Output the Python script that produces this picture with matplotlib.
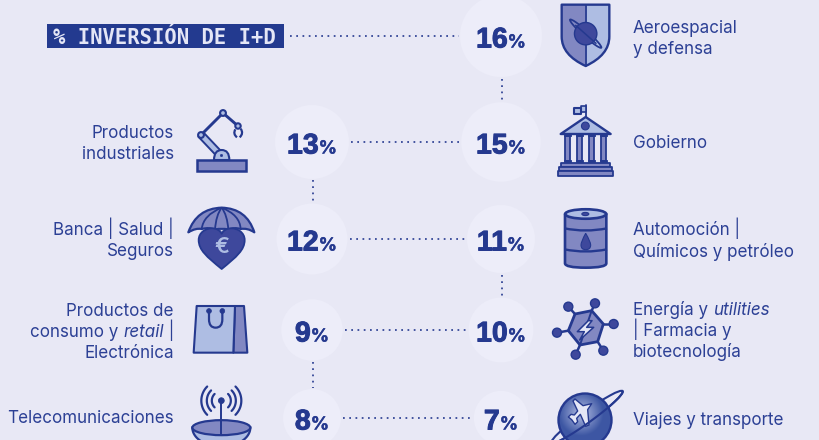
import numpy as np
import matplotlib
matplotlib.use('Agg')
import matplotlib.pyplot as plt
import matplotlib.patheffects as pe
from matplotlib.patches import Circle, Ellipse, Polygon, Rectangle, PathPatch
from matplotlib.path import Path

# ---------- data ----------
title = "% INVERSIÓN DE I+D"
left_values = [13, 12, 9, 8]
right_values = [16, 15, 11, 10, 7]
left_labels = [
    [[("Productos", "normal")], [("industriales", "normal")]],
    [[("Banca | Salud |", "normal")], [("Seguros", "normal")]],
    [[("Productos de", "normal")], [("consumo y ", "normal"), ("retail", "italic"), (" |", "normal")], [("Electrónica", "normal")]],
    [[("Telecomunicaciones", "normal")]],
]
right_labels = [
    [[("Aeroespacial", "normal")], [("y defensa", "normal")]],
    [[("Gobierno", "normal")]],
    [[("Automoción |", "normal")], [("Químicos y petróleo", "normal")]],
    [[("Energía y ", "normal"), ("utilities", "italic")], [("| Farmacia y", "normal")], [("biotecnología", "normal")]],
    [[("Viajes y transporte", "normal")]],
]

# ---------- layout / style ----------
left_rows = [142, 239, 330, 418]
right_rows = [36, 142, 239, 330, 418]
left_label_rows = [142.5, 239.5, 331, 417]
right_label_rows = [37.5, 142, 240, 330, 419]
left_cx, right_cx = 312, 501
BG, DISC = '#E8E8F5', '#EDEDF9'
NAVY, MID, LIGHT, DARK = '#25398F', '#8288C2', '#AEBDE3', '#3E489C'
TXT = '#2C4095'
FONT = 'Inter'
FS = 12.25

fig = plt.figure(figsize=(8.19, 4.40), dpi=100, facecolor=BG)
ax = fig.add_axes([0, 0, 1, 1])
ax.set_xlim(0, 819); ax.set_ylim(440, 0); ax.axis('off')
renderer = fig.canvas.get_renderer()


def radius(v):
    return 10.25 * np.sqrt(v)


def dotted(x0, y0, x1, y1):
    ax.plot([x0, x1], [y0, y1], color=NAVY, lw=1.2, ls=(0, (1.05, 2.7)), zorder=2)


def width(t):
    return t.get_window_extent(renderer).width


def label(lines, x, yc, align):
    step = 21.4
    y0 = yc - step * (len(lines) - 1) / 2 + 6
    for i, line_ in enumerate(lines):
        cursor = 0
        texts = []
        for s, st in line_:
            s = s.replace(' ', '\u00a0')
            t = ax.text(cursor, y0 + i * step, s, fontsize=FS, family=FONT, style=st, color=TXT,
                        ha='left', va='baseline', zorder=5)
            texts.append(t)
            cursor += width(t)
        start = x - cursor if align == 'right' else x
        for t in texts:
            t.set_x(t.get_position()[0] + start)


def percent(cx, cy, v):
    a = ax.text(0, cy + 11.5, str(v), fontsize=20.5, family='Liberation Sans', weight='bold', color=NAVY,
                ha='left', va='baseline', zorder=5,
                path_effects=[pe.withStroke(linewidth=0.7, foreground=NAVY)])
    b = ax.text(0, cy + 11.5, '%', fontsize=13, family=FONT, weight='bold', color=NAVY,
                ha='left', va='baseline', zorder=5,
                path_effects=[pe.withStroke(linewidth=0.3, foreground=NAVY)])
    wa, wb = width(a), width(b)
    left = cx - (wa + wb) / 2
    a.set_x(left); b.set_x(left + wa)


def Z(ox, oy, pts, s=3.0):
    return [(ox + px / s, oy + py / s) for px, py in pts]


def poly(pts, fc, ec=NAVY, lw=1.5, z=4):
    ax.add_patch(Polygon(pts, closed=True, fc=fc, ec=ec, lw=lw, joinstyle='round', zorder=z))


def line(pts, lw=1.5, c=NAVY, z=4):
    xs, ys = zip(*pts)
    ax.plot(xs, ys, color=c, lw=lw, solid_capstyle='round', zorder=z)


def circ(x, y, r, fc, ec=NAVY, lw=1.2, z=4):
    ax.add_patch(Circle((x, y), r, fc=fc, ec=ec, lw=lw, zorder=z))


def curve(verts, codes, fc, ec=NAVY, lw=1.5, z=4):
    ax.add_patch(PathPatch(Path(verts, codes), fc=fc, ec=ec, lw=lw, zorder=z, joinstyle='round'))


M, L, C3, C4, CL = Path.MOVETO, Path.LINETO, Path.CURVE3, Path.CURVE4, Path.CLOSEPOLY


def icon_shield():
    ox, oy = 410, 0
    top_l, top_m, top_r = (455, 14), (527, 14), (598, 14)
    bot = (527, 198)
    curve(Z(ox, oy, [top_l, (455, 110), (455, 165), bot, top_m, top_l]), [M, L, C3, C3, L, CL], MID, 'none', 0)
    curve(Z(ox, oy, [top_m, top_r, (598, 110), (598, 165), bot, top_m]), [M, L, L, C3, C3, CL], LIGHT, 'none', 0)
    curve(Z(ox, oy, [top_l, top_r, (598, 110), (598, 165), bot, (455, 165), (455, 110), top_l]),
          [M, L, L, C3, C3, C3, L, CL], 'none', NAVY, 1.7, 5)
    line(Z(ox, oy, [top_m, bot]), 1.3, z=5)
    c = Z(ox, oy, [(527, 101)])[0]
    ax.add_patch(Ellipse(c, 42, 5.5, angle=42, fc='none', ec=NAVY, lw=1.3, zorder=5))
    circ(c[0], c[1], 11.2, DARK, NAVY, 1, 6)
    line(Z(ox, oy, [(497, 76), (558, 130)]), 1.1, z=7)


def icon_robot():
    ox, oy = 0, 0
    ax.add_patch(Rectangle((197, 160), 49, 11, fc=MID, ec=NAVY, lw=1.8, zorder=4))
    curve(Z(ox, oy, [(642, 480), (642, 450), (665, 450), (688, 450), (688, 480), (642, 480)]), [M, C3, C3, C3, C3, CL], LIGHT, NAVY, 1.5, 5)
    circ(221.5, 155.5, 1.1, NAVY, NAVY, 0.5, 6)
    poly(Z(ox, oy, [(595, 410), (610, 397), (663, 453), (648, 466)]), LIGHT, NAVY, 1.4, 3)
    line([(201, 135), (223, 113)], 2.1)
    line([(223, 113), (238, 126)], 2.1)
    circ(201, 135, 2.9, LIGHT, NAVY, 1.5, 5)
    circ(223, 113, 2.9, LIGHT, NAVY, 1.5, 5)
    circ(238, 126, 2.7, LIGHT, NAVY, 1.5, 5)
    curve(Z(ox, oy, [(706, 388), (698, 402), (711, 412)]), [M, C3, C3], 'none', NAVY, 1.6, 5)
    curve(Z(ox, oy, [(722, 386), (732, 400), (719, 412)]), [M, C3, C3], 'none', NAVY, 1.6, 5)


def icon_gov():
    ox, oy = 410, 0
    line(Z(ox, oy, [(527, 316), (527, 352)]), 1.3)
    poly(Z(ox, oy, [(512, 318), (528, 318), (528, 335), (512, 335)]), LIGHT, NAVY, 1.2)
    poly(Z(ox, oy, [(491, 324), (512, 324), (512, 343), (491, 343)]), LIGHT, NAVY, 1.5)
    poly(Z(ox, oy, [(452, 402), (527, 351), (602, 402)]), LIGHT, NAVY, 1.7)
    c = Z(ox, oy, [(526, 378)])[0]
    circ(c[0], c[1], 3.9, DARK, NAVY, 0.8, 5)
    for cx in (472, 508, 544, 580):
        poly(Z(ox, oy, [(cx - 8, 408), (cx + 8, 408), (cx + 8, 484), (cx - 8, 484)]), MID, NAVY, 1.3)
        poly(Z(ox, oy, [(cx - 11, 403), (cx + 11, 403), (cx + 11, 409), (cx - 11, 409)]), NAVY, NAVY, 0.6)
        poly(Z(ox, oy, [(cx - 11, 480), (cx + 11, 480), (cx + 11, 487), (cx - 11, 487)]), NAVY, NAVY, 0.6)
    poly(Z(ox, oy, [(452, 488), (600, 488), (600, 500), (452, 500)]), MID, NAVY, 1.3)
    poly(Z(ox, oy, [(447, 500), (606, 500), (606, 513), (447, 513)]), MID, NAVY, 1.3)
    poly(Z(ox, oy, [(443, 514), (610, 514), (610, 528), (443, 528)]), MID, NAVY, 1.3)


def icon_umbrella():
    ox, oy = 170, 195
    pts = [(55, 112), (95, 102), (135, 104), (175, 104), (212, 102), (253, 112)]
    top = (155, 38)
    v = Z(ox, oy, [(55, 112), (80, 40), top, (230, 40), (253, 112),
                   (232, 98), (212, 102), (193, 96), (175, 104), (155, 98), (135, 104), (118, 96), (95, 102), (78, 98), (55, 112), (55, 112)])
    curve(v, [M, C3, C3, C3, C3, C3, C3, C3, C3, C3, C3, C3, C3, C3, C3, CL], MID, NAVY, 1.6, 4)
    for p, ctrl in zip(pts[1:-1], [(100, 60), (138, 60), (172, 60), (210, 60)]):
        curve(Z(ox, oy, [top, ctrl, p]), [M, C3, C3], 'none', NAVY, 1.3, 5)
    v = Z(ox, oy, [(155, 222), (110, 185), (86, 165), (86, 135), (86, 112), (108, 100), (125, 100),
                   (140, 100), (150, 106), (155, 116), (160, 106), (170, 100), (185, 100),
                   (202, 100), (224, 112), (224, 135), (224, 165), (200, 185), (155, 222), (155, 222)])
    curve(v, [M] + [C4] * 18 + [CL], DARK, NAVY, 1.3, 6)
    poly(Z(ox, oy, [(148, 104), (162, 104), (155, 112)]), BG, NAVY, 0.6, 7)
    c = Z(ox, oy, [(155, 157)])[0]
    ax.text(c[0], c[1], '€', fontsize=16, family=FONT, weight='semibold', color=LIGHT, ha='center', va='center', zorder=8)


def icon_barrel():
    ox, oy = 545, 200
    curve(Z(ox, oy, [(60, 42), (60, 190), (60, 203), (122, 203), (184, 203), (184, 190), (184, 42), (60, 42)]),
          [M, L, C3, C3, C3, C3, L, CL], MID, NAVY, 1.9, 4)
    c = Z(ox, oy, [(122, 42)])[0]
    ax.add_patch(Ellipse(c, 41, 9.5, fc=LIGHT, ec=NAVY, lw=1.9, zorder=5))
    c2 = Z(ox, oy, [(121, 42)])[0]
    ax.add_patch(Ellipse(c2, 7, 3.2, fc=DARK, ec=NAVY, lw=0.8, zorder=6))
    curve(Z(ox, oy, [(58, 85), (122, 98), (186, 85)]), [M, C3, C3], 'none', NAVY, 1.7, 5)
    curve(Z(ox, oy, [(58, 148), (122, 161), (186, 148)]), [M, C3, C3], 'none', NAVY, 1.7, 5)
    curve(Z(ox, oy, [(122, 100), (108, 125), (108, 135), (108, 149), (122, 149), (137, 149), (137, 135), (137, 125), (122, 100)]),
          [M, C3, C3, C3, C3, C3, C3, C3, C3], DARK, NAVY, 0.8, 6)


def icon_bag():
    ox, oy = 0, 220
    poly(Z(ox, oy, [(705, 258), (732, 258), (742, 398), (700, 398)]), MID, NAVY, 1.5, 4)
    poly(Z(ox, oy, [(590, 258), (705, 258), (700, 398), (581, 398)]), LIGHT, NAVY, 1.5, 5)
    curve(Z(ox, oy, [(627, 273), (627, 298), (627, 323), (647, 323), (667, 323), (667, 298), (667, 273)]),
          [M, L, C3, C3, C3, C3, L], 'none', NAVY, 1.6, 6)
    for x in (627, 667):
        c = Z(ox, oy, [(x, 273)])[0]
        circ(c[0], c[1], 2.4, NAVY, NAVY, 0.5, 7)


def icon_hex():
    ox, oy = 545, 290
    hexa = [(90, 72), (140, 62), (175, 102), (158, 155), (105, 165), (70, 122)]
    nodes = [(70, 50), (150, 40), (206, 102), (175, 182), (92, 194), (36, 128)]
    for n, a in zip(nodes, hexa):
        line(Z(ox, oy, [n, a]), 1.8, z=3)
        c = Z(ox, oy, [n])[0]
        circ(c[0], c[1], 4.5, DARK, NAVY, 1.0, 4)
    poly(Z(ox, oy, hexa), MID, NAVY, 2.0, 4)
    line(Z(ox, oy, [(140, 62), (105, 165)]), 1.4, z=5)
    poly(Z(ox, oy, [(130, 92), (97, 125), (118, 125), (104, 150), (146, 112), (125, 112), (141, 92)]), '#E4E6F6', NAVY, 1.1, 6)


def icon_antenna():
    ox, oy = 180, 380
    c = Z(ox, oy, [(124, 62)])[0]
    for r in (20, 14.5, 9.5):
        for a0, a1 in [(-45, 45), (135, 225)]:
            th = np.radians(np.linspace(a0, a1, 30))
            line(list(zip(c[0] + r * np.cos(th), c[1] + r * np.sin(th))), 1.6)
    circ(c[0], c[1], 2.9, NAVY, NAVY, 0.6, 5)
    th = np.linspace(0, np.pi, 40)
    cx, cy = Z(ox, oy, [(124, 143)])[0]
    ax.fill(cx + 29 * np.cos(th), cy + 19 * np.sin(th), fc=LIGHT, ec=NAVY, lw=1.6, zorder=4)
    ax.add_patch(Ellipse((cx, cy), 58, 15, fc=MID, ec=NAVY, lw=1.6, zorder=5))
    line([(c[0], c[1]), (c[0], cy + 7)], 1.4, z=6)


def icon_plane():
    ox, oy = 545, 385
    cx, cy = Z(ox, oy, [(120, 105)])[0]
    r = 26.5
    ring_c = (587, 417)
    major, minor, ang = 44, 5.5, -36
    ax.add_patch(Ellipse(ring_c, 2 * major, 2 * minor, angle=ang, fc='none', ec=NAVY, lw=1.5, zorder=3))
    yy, xx = np.mgrid[0:1:120j, 0:1:120j]
    d = np.hypot(xx - 0.42, yy - 0.38)
    rgb0, rgb1 = np.array([0.70, 0.74, 0.89]), np.array([0.24, 0.34, 0.64])
    t = np.clip(d / 0.42, 0, 1)[..., None]
    im = ax.imshow(rgb0 * (1 - t) + rgb1 * t, extent=(cx - r, cx + r, cy + r, cy - r), zorder=4, aspect='auto')
    im.set_clip_path(Circle((cx, cy), r, transform=ax.transData))
    ax.set_xlim(0, 819); ax.set_ylim(440, 0)
    circ(cx, cy, r, 'none', NAVY, 1.7, 5)
    plane = [(140, 56), (128, 74), (132, 120), (122, 124), (106, 88), (95, 100), (98, 110), (90, 118), (80, 104), (70, 96),
             (78, 88), (88, 90), (98, 78), (84, 48), (90, 42), (114, 62)]
    poly(Z(ox, oy, plane), '#E4E6F6', NAVY, 1.0, 6)
    th = np.radians(np.linspace(180, 360, 60))
    a = np.radians(ang)
    ex, ey = major * np.cos(th), -minor * np.sin(th)
    line(list(zip(ring_c[0] + ex * np.cos(a) - ey * np.sin(a), ring_c[1] + ex * np.sin(a) + ey * np.cos(a))), 1.5, z=7)


# ---------- discs ----------
for v, y in zip(left_values, left_rows):
    ax.add_patch(Circle((left_cx, y), radius(v), fc=DISC, ec='none', zorder=1))
    percent(left_cx, y, v)
for v, y in zip(right_values, right_rows):
    ax.add_patch(Circle((right_cx, y), radius(v), fc=DISC, ec='none', zorder=1))
    percent(right_cx, y, v)

# ---------- connectors ----------
dotted(290, right_rows[0], right_cx - radius(right_values[0]) - 1, right_rows[0])
for lv, rv, y in zip(left_values, right_values[1:], left_rows):
    dotted(left_cx + radius(lv) + 2, y, right_cx - radius(rv) - 1, y)
for i, j in [(0, 1), (2, 3)]:
    dotted(left_cx + 1, left_rows[i] + radius(left_values[i]) + 1, left_cx + 1, left_rows[j] - radius(left_values[j]) - 1)
for i, j in [(0, 1), (2, 3)]:
    dotted(right_cx + 1, right_rows[i] + radius(right_values[i]) + 2, right_cx + 1, right_rows[j] - radius(right_values[j]) - 1)

# ---------- labels ----------
for lines, y in zip(left_labels, left_label_rows):
    label(lines, 174, y, 'right')
for lines, y in zip(right_labels, right_label_rows):
    label(lines, 633, y, 'left')

# ---------- title ----------
ax.add_patch(Rectangle((47, 24), 237, 24, fc='#233A8F', ec='none', zorder=3))
ax.text(164.5, 44, title, family='DejaVu Sans Mono', weight='bold', fontsize=14.8, color='#E4E6F6',
        ha='center', va='baseline', zorder=4)

# ---------- icons ----------
icon_shield(); icon_robot(); icon_gov(); icon_umbrella(); icon_barrel()
icon_bag(); icon_hex(); icon_antenna(); icon_plane()

fig.savefig('out.png', dpi=100, facecolor=BG)
